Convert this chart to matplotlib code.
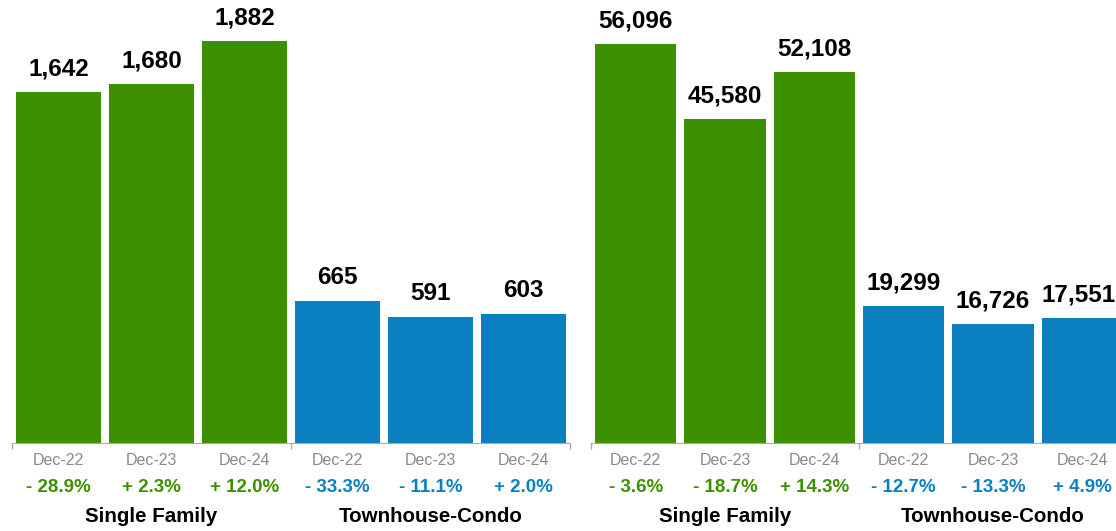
import matplotlib.pyplot as plt
from matplotlib import transforms

plt.rcParams['font.family'] = ['Liberation Sans', 'DejaVu Sans']

# data
periods = ["Dec-22", "Dec-23", "Dec-24"]
groups = ["Single Family", "Townhouse-Condo"]

left_sf = [1642, 1680, 1882]
left_tc = [665, 591, 603]
left_sf_chg = ["- 28.9%", "+ 2.3%", "+ 12.0%"]
left_tc_chg = ["- 33.3%", "- 11.1%", "+ 2.0%"]

right_sf = [56096, 45580, 52108]
right_tc = [19299, 16726, 17551]
right_sf_chg = ["- 3.6%", "- 18.7%", "+ 14.3%"]
right_tc_chg = ["- 12.7%", "- 13.3%", "+ 4.9%"]

green = "#3d9000"
blue = "#0a80c1"
gray = "#8a8a8a"

W, H = 1116, 531
fig = plt.figure(figsize=(W / 100, H / 100), dpi=100)


def panel(rect, sf, tc, sf_chg, tc_chg, ytop, last_shift=0):
    ax = fig.add_axes(rect)
    vals = sf + tc
    cols = [green] * 3 + [blue] * 3
    x = list(range(6))
    bars = ax.bar(x, vals, width=0.91, color=cols)
    ax.set_xlim(-0.5, 5.5)
    ax.set_ylim(0, ytop)
    for s in ["top", "left", "right"]:
        ax.spines[s].set_visible(False)
    ax.spines["bottom"].set_color("#aaaaaa")
    ax.set_yticks([])
    ax.set_xticks([-0.5, 2.5, 5.5])
    ax.set_xticklabels([])
    ax.tick_params(axis="x", direction="out", length=4.3, color="#aaaaaa", width=1)

    # value labels
    for i, (b, v) in enumerate(zip(bars, vals)):
        dx = last_shift if i == 5 else 0
        ax.annotate(f"{v:,}", (b.get_x() + b.get_width() / 2, v),
                    xytext=(dx, 12), textcoords="offset points",
                    ha="center", va="baseline", fontsize=17.5, fontweight="bold")

    trans = transforms.blended_transform_factory(ax.transData, ax.transAxes)
    hpx = rect[3] * H
    chg = sf_chg + tc_chg
    for i in x:
        ax.text(i, (hpx - 465) / hpx, periods[i % 3], transform=trans,
                ha="center", va="baseline", fontsize=11.5, color=gray)
        ax.text(i, (hpx - 492) / hpx, chg[i], transform=trans,
                ha="center", va="baseline", fontsize=13.5, fontweight="bold",
                color=green if i < 3 else blue)
    for g, xi in zip(groups, [1, 4]):
        ax.text(xi, (hpx - 522) / hpx, g, transform=trans,
                ha="center", va="baseline", fontsize=14.8, fontweight="bold")
    return ax


# pixel scale: left 0.2137 px/unit, right 0.007113 px/unit, axes height 443 px
panel([12 / W, 88 / H, 558 / W, 443 / H], left_sf, left_tc, left_sf_chg, left_tc_chg, 443 / 0.2137)
panel([591 / W, 88 / H, 536 / W, 443 / H], right_sf, right_tc, right_sf_chg, right_tc_chg, 443 / 0.007113,
      last_shift=-3)

fig.savefig("out.png", dpi=100)
